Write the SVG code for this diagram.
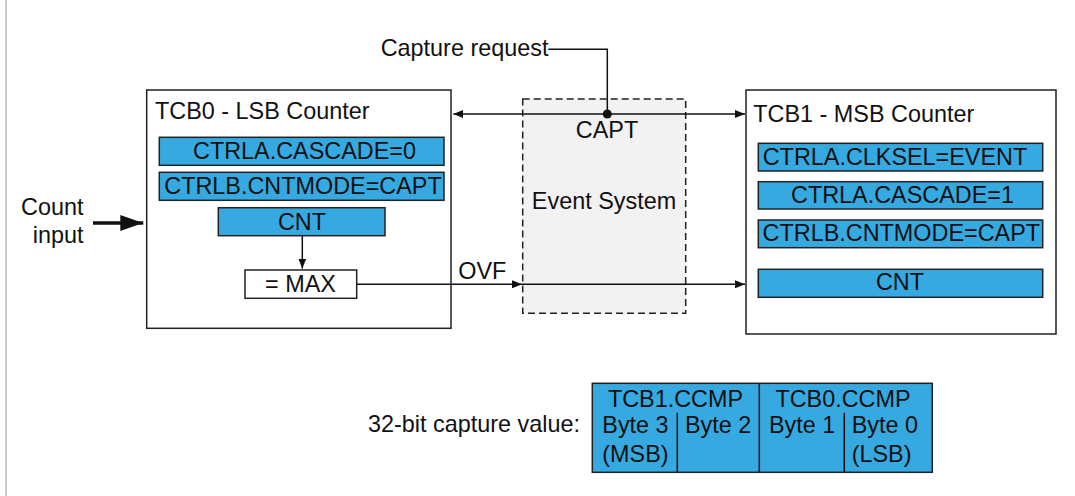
<svg xmlns="http://www.w3.org/2000/svg" width="1075" height="496" viewBox="0 0 1075 496">
<defs>
<style>
text{font-family:"Liberation Sans",Arial,sans-serif;font-size:23.4px;fill:#111}
.m{text-anchor:middle}
.frame{fill:#fff;stroke:#222;stroke-width:1.5}
.reg{fill:#36a9e1;stroke:#222;stroke-width:1.5}
.wire{fill:none;stroke:#111;stroke-width:1.5}
</style>
<marker id="ah" viewBox="0 0 10 8" refX="10" refY="4" markerWidth="10" markerHeight="8" markerUnits="userSpaceOnUse" orient="auto-start-reverse">
<path d="M0,0 L10,4 L0,8 Z" fill="#111"/>
</marker>
<marker id="bigah" viewBox="0 0 23 16" refX="23" refY="8" markerWidth="23" markerHeight="16" markerUnits="userSpaceOnUse" orient="auto">
<path d="M0,0 L23,8 L0,16 Z" fill="#111"/>
</marker>
</defs>
<rect x="0" y="0" width="1075" height="496" fill="#fff"/>
<line x1="6" y1="0" x2="6" y2="496" stroke="#bdbdbd" stroke-width="1.5"/>

<g id="event-system">
<rect x="522.7" y="99" width="163" height="214.3" fill="#f2f2f2" stroke="#222" stroke-width="1.5" stroke-dasharray="7,4"/>
<text class="m" x="607" y="138">CAPT</text>
<text class="m" x="604" y="209">Event System</text>
</g>

<g id="tcb0">
<rect class="frame" x="146.7" y="90" width="304.3" height="238.3"/>
<text x="155" y="118.5">TCB0 - LSB Counter</text>
<rect class="reg" x="159.3" y="137.3" width="284.7" height="28"/>
<text class="m" x="304.5" y="159">CTRLA.CASCADE=0</text>
<rect class="reg" x="159.3" y="172.3" width="284.7" height="28"/>
<text class="m" x="303" y="194">CTRLB.CNTMODE=CAPT</text>
<rect class="reg" x="218.3" y="207.7" width="166.7" height="28"/>
<text class="m" x="302" y="230">CNT</text>
<rect class="frame" x="245" y="270" width="111.7" height="28.3"/>
<text class="m" x="300.5" y="292">= MAX</text>
</g>

<g id="tcb1">
<rect class="frame" x="746" y="90" width="310" height="244"/>
<text x="753.3" y="121.5">TCB1 - MSB Counter</text>
<rect class="reg" x="758.3" y="143.3" width="284.4" height="27.7"/>
<text class="m" x="895" y="165">CTRLA.CLKSEL=EVENT</text>
<rect class="reg" x="758.3" y="181.7" width="284.4" height="27.3"/>
<text class="m" x="902.5" y="203">CTRLA.CASCADE=1</text>
<rect class="reg" x="758.3" y="220" width="284.4" height="27.7"/>
<text class="m" x="901.3" y="241">CTRLB.CNTMODE=CAPT</text>
<rect class="reg" x="758.3" y="269.3" width="284.4" height="28"/>
<text class="m" x="900" y="290">CNT</text>
</g>

<g id="count-input">
<text x="83.5" y="215" text-anchor="end">Count</text>
<text x="83.5" y="243.3" text-anchor="end">input</text>
</g>

<g id="capture-request">
<text x="380.7" y="56">Capture request</text>
</g>

<g id="capture-value">
<text x="368" y="432">32-bit capture value:</text>
<rect class="reg" x="592.3" y="383.3" width="340" height="89"/>
<line class="wire" x1="759.3" y1="383.3" x2="759.3" y2="472.3"/>
<line class="wire" x1="677.3" y1="412.7" x2="677.3" y2="472.3"/>
<line class="wire" x1="844.3" y1="412.7" x2="844.3" y2="472.3"/>
<text class="m" x="675.5" y="406.7">TCB1.CCMP</text>
<text class="m" x="843" y="406.7">TCB0.CCMP</text>
<text x="602.3" y="433.3">Byte 3</text>
<text x="602.3" y="461.7">(MSB)</text>
<text x="685" y="433.3">Byte 2</text>
<text x="769" y="433.3">Byte 1</text>
<text x="851.7" y="433.3">Byte 0</text>
<text x="851.7" y="461.7">(LSB)</text>
</g>

<g id="connectors">
<line x1="93" y1="223" x2="143.3" y2="223" stroke="#111" stroke-width="3.5" marker-end="url(#bigah)"/>
<line class="wire" x1="302.3" y1="235.7" x2="302.3" y2="268.5" marker-end="url(#ah)"/>
<line class="wire" x1="356.7" y1="284.3" x2="522" y2="284.3" marker-end="url(#ah)"/>
<line class="wire" x1="522" y1="284.3" x2="745" y2="284.3" marker-end="url(#ah)"/>
<text x="458.3" y="279">OVF</text>
<line class="wire" x1="453.3" y1="114" x2="745" y2="114" marker-start="url(#ah)" marker-end="url(#ah)"/>
<path class="wire" d="M548.3,49.3 H607.3 V114"/>
<circle cx="607.3" cy="114" r="4.5" fill="#111"/>
</g>
</svg>
